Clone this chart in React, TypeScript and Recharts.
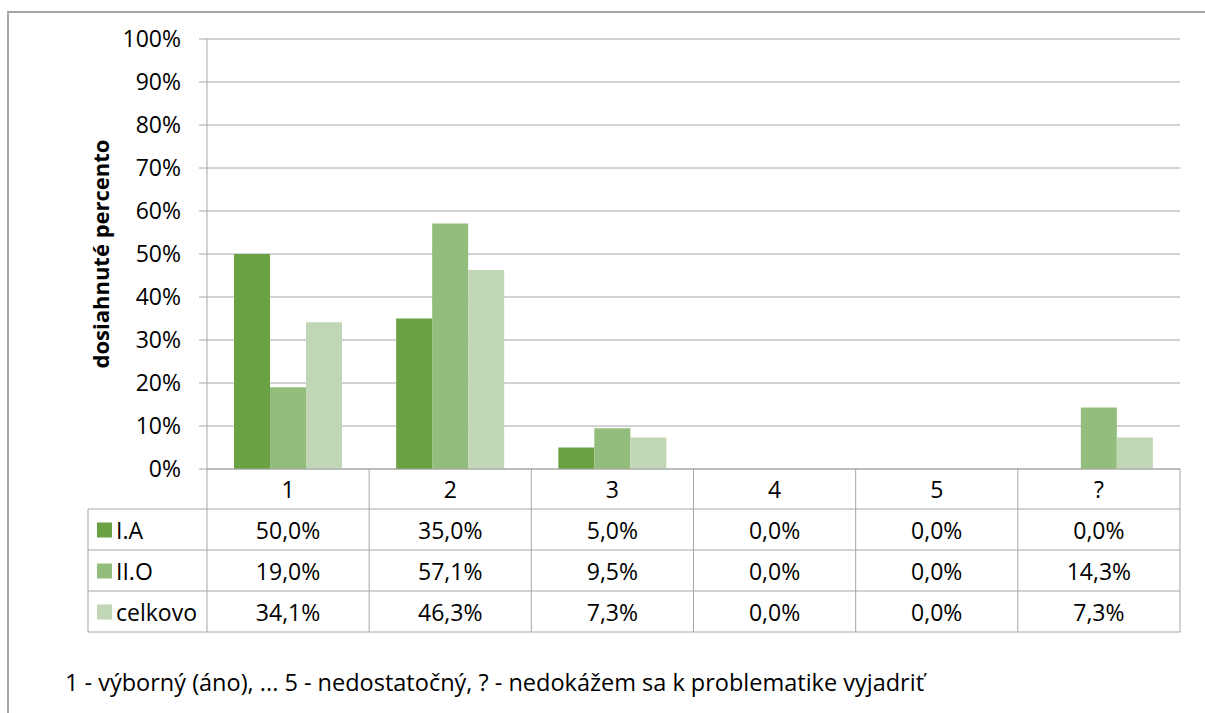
import { BarChart, Bar, XAxis, YAxis, CartesianGrid } from 'recharts'

const categories = ['1', '2', '3', '4', '5', '?']
const seriesIA = [50.0, 35.0, 5.0, 0.0, 0.0, 0.0]
const seriesIIO = [19.0, 57.1, 9.5, 0.0, 0.0, 14.3]
const seriesCelkovo = [34.1, 46.3, 7.3, 0.0, 0.0, 7.3]
const yTicks = [0, 10, 20, 30, 40, 50, 60, 70, 80, 90, 100]

const series = [
  { key: 'ia', name: 'I.A', values: seriesIA, color: '#6aa143' },
  { key: 'iio', name: 'II.O', values: seriesIIO, color: '#93bd7d' },
  { key: 'celkovo', name: 'celkovo', values: seriesCelkovo, color: '#c0d6b4' },
]

const data = categories.map((cat, i) => ({
  cat,
  ia: seriesIA[i],
  iio: seriesIIO[i],
  celkovo: seriesCelkovo[i],
}))

const FONT = '"Open Sans", "Noto Sans", sans-serif'
const FS = 23
const GRID = '#a6a6a6'
// row heights of the data table under the axis: header + 3 series rows
const ROWS = [40, 41, 41, 41]
const LEGEND_COL = 119

const fmt = (v: number) => v.toFixed(1).replace('.', ',') + '%'

const TableTick = (props: any) => {
  const { x, y, payload, width } = props
  const idx = payload.index
  const band = width ? width / categories.length : 162
  const half = band / 2
  const left = x - half
  const right = x + half
  const rowTops = [0]
  ROWS.forEach((h, i) => rowTops.push(rowTops[i] + h))
  const total = rowTops[rowTops.length - 1]

  return (
    <g>
      <line x1={right} y1={y} x2={right} y2={y + total} stroke={GRID} />
      {idx === 0 && <line x1={left} y1={y} x2={left} y2={y + total} stroke={GRID} />}
      {rowTops.slice(1).map((t) => (
        <line key={t} x1={left} y1={y + t} x2={right} y2={y + t} stroke={GRID} />
      ))}
      <text x={x} y={y + ROWS[0] / 2} textAnchor="middle" dominantBaseline="central" fontSize={FS} fontFamily={FONT} fill="#000">
        {payload.value}
      </text>
      {series.map((s, si) => (
        <text
          key={s.key}
          x={x}
          y={y + rowTops[si + 1] + ROWS[si + 1] / 2}
          textAnchor="middle"
          dominantBaseline="central"
          fontSize={FS}
          fontFamily={FONT}
          fill="#000"
        >
          {fmt(s.values[idx])}
        </text>
      ))}
      {idx === 0 && (
        <g>
          <line x1={left - LEGEND_COL} y1={y + rowTops[1]} x2={left - LEGEND_COL} y2={y + total} stroke={GRID} />
          {rowTops.slice(1).map((t) => (
            <line key={t} x1={left - LEGEND_COL} y1={y + t} x2={left} y2={y + t} stroke={GRID} />
          ))}
          {series.map((s, si) => {
            const cy = y + rowTops[si + 1] + ROWS[si + 1] / 2
            return (
              <g key={s.key}>
                <rect x={left - LEGEND_COL + 9} y={cy - 7} width={15} height={15} fill={s.color} />
                <text x={left - LEGEND_COL + 28} y={cy} dominantBaseline="central" fontSize={FS} fontFamily={FONT} fill="#000">
                  {s.name}
                </text>
              </g>
            )
          })}
        </g>
      )}
    </g>
  )
}

export default function App() {
  return (
    <div
      style={{
        position: 'absolute',
        left: 0,
        top: 0,
        width: 1205,
        height: 713,
        background: '#fff',
        overflow: 'hidden',
        fontFamily: FONT,
      }}
    >
      <div
        style={{
          position: 'absolute',
          left: 7,
          top: 11,
          width: 1300,
          height: 800,
          border: '2px solid #a6a6a6',
        }}
      />
      <div style={{ position: 'absolute', left: 0, top: 0 }}>
        <BarChart
          width={1205}
          height={713}
          data={data}
          margin={{ top: 39, right: 25, left: 0, bottom: 0 }}
          barCategoryGap={27}
          barGap={0}
        >
          <CartesianGrid vertical={false} stroke={GRID} />
          <XAxis
            dataKey="cat"
            height={244}
            interval={0}
            tickLine={false}
            tickSize={0}
            tickMargin={0}
            axisLine={{ stroke: GRID }}
            tick={<TableTick />}
          />
          <YAxis
            width={207}
            domain={[0, 100]}
            ticks={yTicks}
            interval={0}
            tickFormatter={(v: number) => `${v}%`}
            tickSize={8}
            tickMargin={18}
            axisLine={{ stroke: GRID }}
            tickLine={{ stroke: GRID }}
            tick={{ fill: '#000', fontSize: FS, fontFamily: FONT }}
            label={{
              value: 'dosiahnuté percento',
              angle: -90,
              position: 'center',
              dx: -2,
              style: { fontSize: 22, fontWeight: 700, fontFamily: FONT, fill: '#000' },
            }}
          />
          {series.map((s) => (
            <Bar key={s.key} dataKey={s.key} name={s.name} fill={s.color} isAnimationActive={false} />
          ))}
        </BarChart>
      </div>
      <div
        style={{
          position: 'absolute',
          left: 65,
          top: 666,
          fontSize: 23.5,
          lineHeight: '32px',
          color: '#000',
          whiteSpace: 'nowrap',
        }}
      >
        1 - výborný (áno), ... 5 - nedostatočný, ? - nedokážem sa k problematike vyjadriť
      </div>
    </div>
  )
}
